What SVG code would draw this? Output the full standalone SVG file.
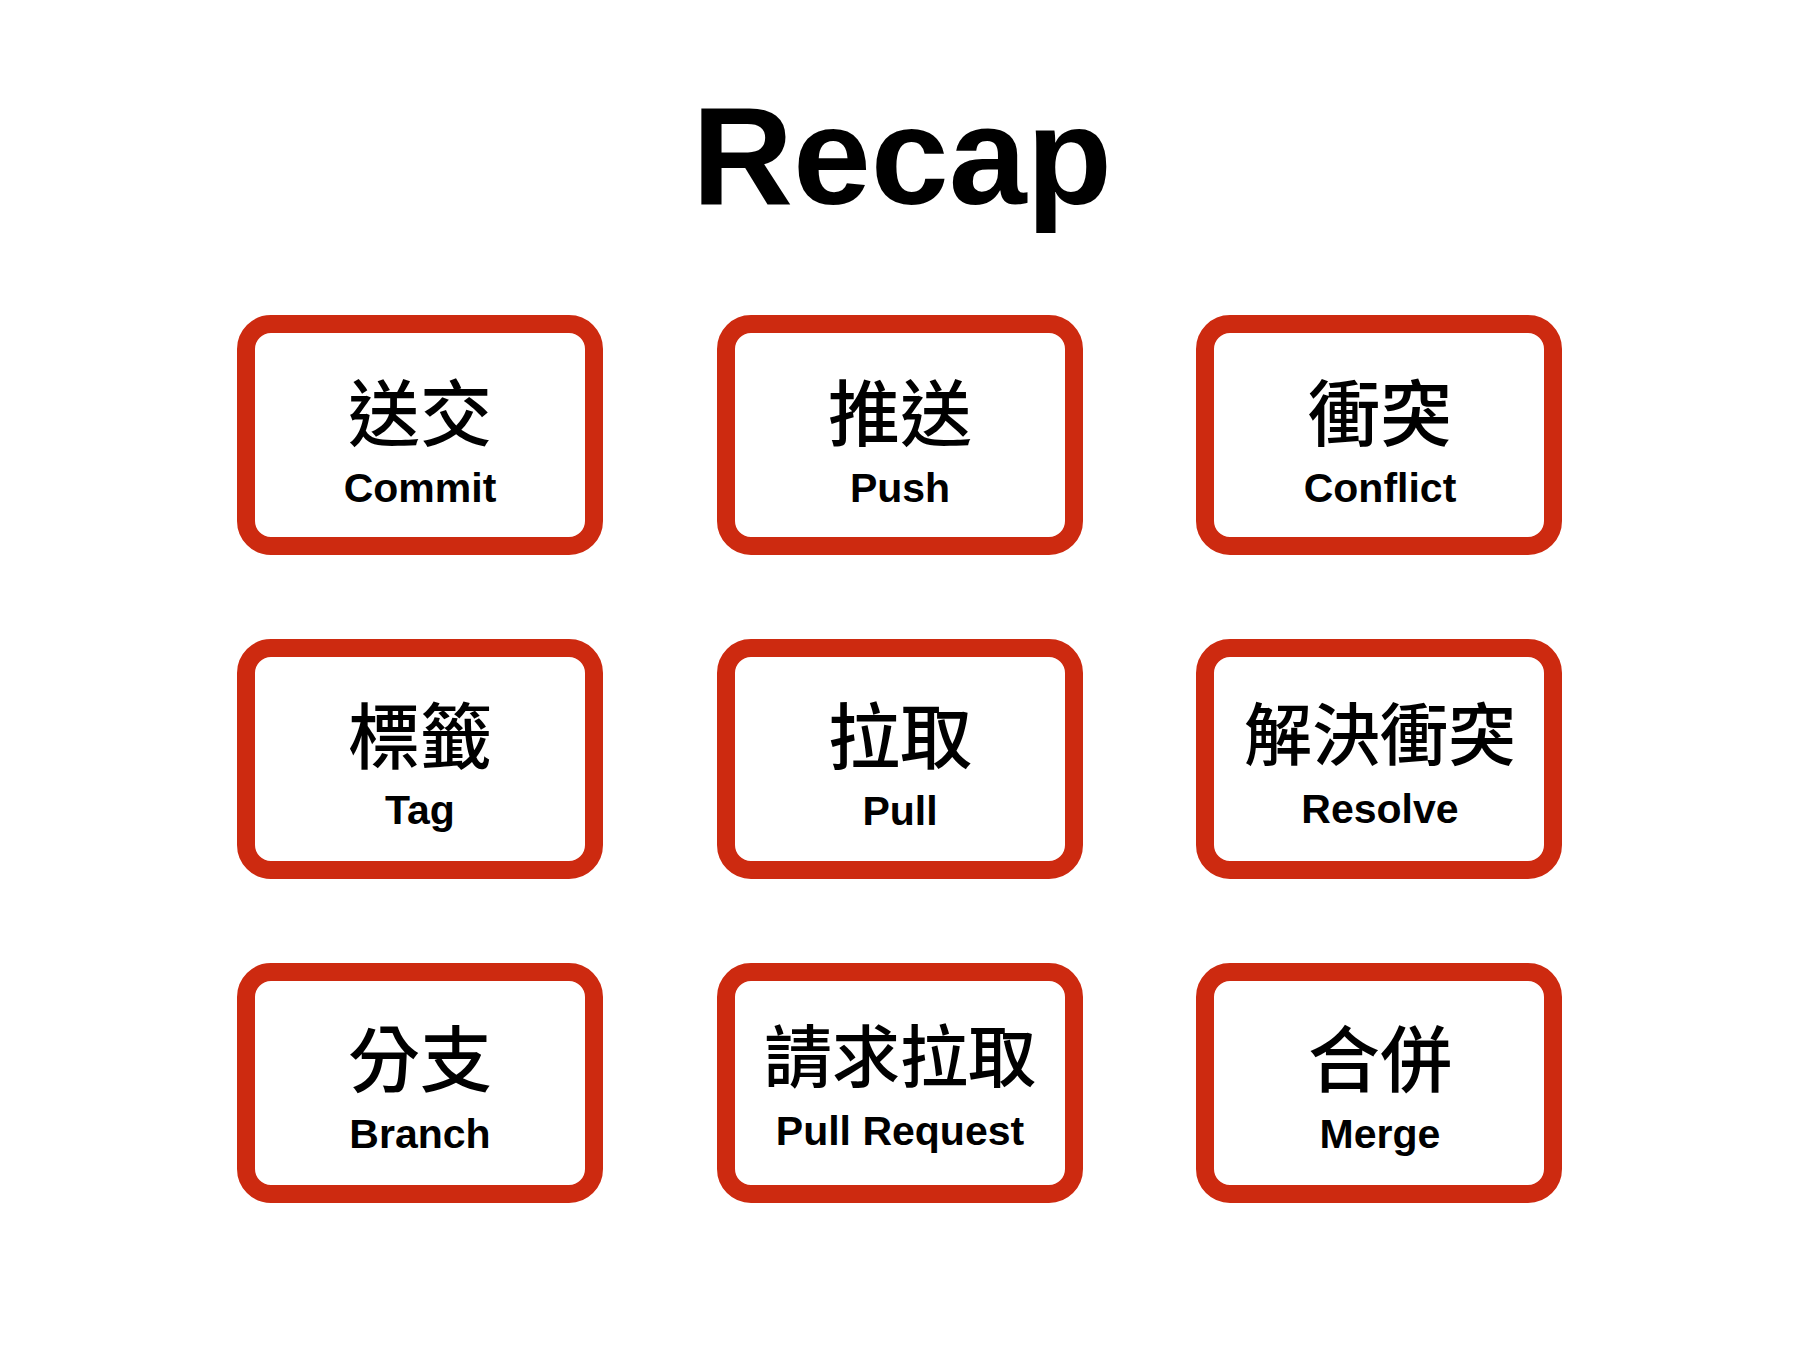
<svg xmlns="http://www.w3.org/2000/svg" width="1800" height="1350" viewBox="0 0 1800 1350">
<style>
.box{fill:#ffffff;stroke:#CD2A10;stroke-width:18}
.zh{font-family:"Noto Sans CJK TC","Noto Sans CJK SC",sans-serif;font-weight:500;font-size:72px;fill:#000;text-anchor:middle}
.zh4{font-size:68px}
.en{font-family:"Liberation Sans",Arial,sans-serif;font-weight:700;font-size:41px;fill:#000;text-anchor:middle}
.title{font-family:"Liberation Sans",Arial,sans-serif;font-weight:700;font-size:140px;fill:#000;text-anchor:middle}
</style>
<rect x="0" y="0" width="1800" height="1350" fill="#ffffff"/>
<text class="title" x="902" y="204">Recap</text>
<g id="connectors"></g>
<g id="commit">
<rect class="box" x="246" y="324" width="348" height="222" rx="25"/>
<text class="zh" x="420" y="440">送交</text>
<text class="en" x="420" y="502">Commit</text>
</g>
<g id="push">
<rect class="box" x="726" y="324" width="348" height="222" rx="25"/>
<text class="zh" x="900" y="440">推送</text>
<text class="en" x="900" y="502">Push</text>
</g>
<g id="conflict">
<rect class="box" x="1205" y="324" width="348" height="222" rx="25"/>
<text class="zh" x="1380" y="440">衝突</text>
<text class="en" x="1380" y="502">Conflict</text>
</g>
<g id="tag">
<rect class="box" x="246" y="648" width="348" height="222" rx="25"/>
<text class="zh" x="420" y="763">標籤</text>
<text class="en" x="420" y="824">Tag</text>
</g>
<g id="pull">
<rect class="box" x="726" y="648" width="348" height="222" rx="25"/>
<text class="zh" x="900" y="763">拉取</text>
<text class="en" x="900" y="825">Pull</text>
</g>
<g id="resolve">
<rect class="box" x="1205" y="648" width="348" height="222" rx="25"/>
<text class="zh zh4" x="1380" y="760">解決衝突</text>
<text class="en" x="1380" y="823">Resolve</text>
</g>
<g id="branch">
<rect class="box" x="246" y="972" width="348" height="222" rx="25"/>
<text class="zh" x="420" y="1086">分支</text>
<text class="en" x="420" y="1148">Branch</text>
</g>
<g id="pull-request">
<rect class="box" x="726" y="972" width="348" height="222" rx="25"/>
<text class="zh zh4" x="900" y="1082">請求拉取</text>
<text class="en" x="900" y="1145">Pull Request</text>
</g>
<g id="merge">
<rect class="box" x="1205" y="972" width="348" height="222" rx="25"/>
<text class="zh" x="1380" y="1086">合併</text>
<text class="en" x="1380" y="1148">Merge</text>
</g>
</svg>
